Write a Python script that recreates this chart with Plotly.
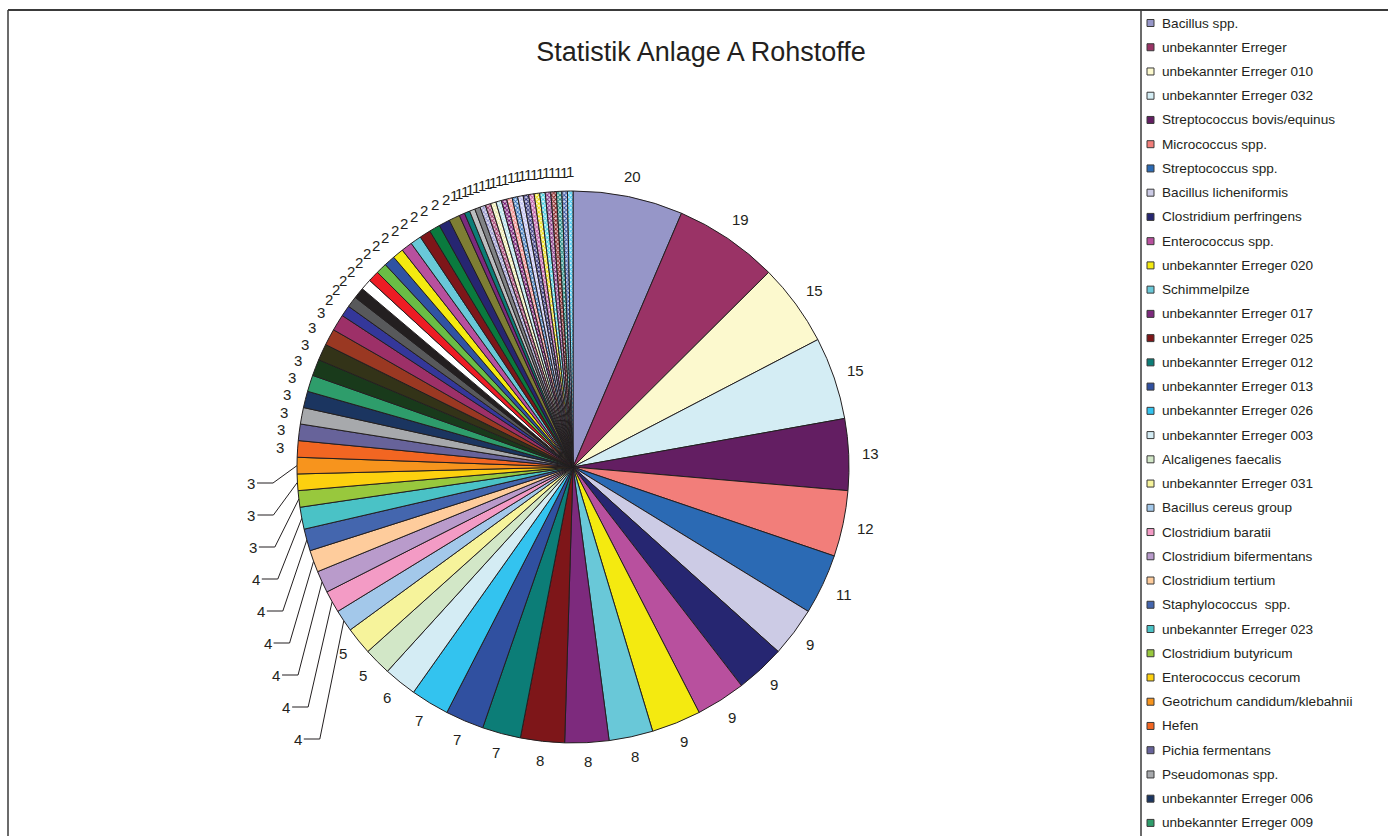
import math
import plotly.graph_objects as go

W, H = 1388, 836

# Befunde je Erreger (absteigend sortiert)
legend_names = [
    "Bacillus spp.", "unbekannter Erreger", "unbekannter Erreger 010",
    "unbekannter Erreger 032", "Streptococcus bovis/equinus", "Micrococcus spp.",
    "Streptococcus spp.", "Bacillus licheniformis", "Clostridium perfringens",
    "Enterococcus spp.", "unbekannter Erreger 020", "Schimmelpilze",
    "unbekannter Erreger 017", "unbekannter Erreger 025", "unbekannter Erreger 012",
    "unbekannter Erreger 013", "unbekannter Erreger 026", "unbekannter Erreger 003",
    "Alcaligenes faecalis", "unbekannter Erreger 031", "Bacillus cereus group",
    "Clostridium baratii", "Clostridium bifermentans", "Clostridium tertium",
    "Staphylococcus  spp.", "unbekannter Erreger 023", "Clostridium butyricum",
    "Enterococcus cecorum", "Geotrichum candidum/klebahnii", "Hefen",
    "Pichia fermentans", "Pseudomonas spp.", "unbekannter Erreger 006",
    "unbekannter Erreger 009",
]

values = [
    20, 19, 15, 15, 13, 12, 11, 9, 9, 9, 9, 8, 8, 8, 7, 7, 7, 6, 5, 5,
    4, 4, 4, 4, 4, 4,
    3, 3, 3, 3, 3, 3, 3, 3, 3, 3, 3, 3,
    2, 2, 2, 2, 2, 2, 2, 2, 2, 2, 2, 2, 2, 2,
    1, 1, 1, 1, 1, 1, 1, 1, 1, 1, 1, 1, 1, 1, 1, 1, 1, 1, 1, 1, 1,
]

labels = legend_names + [f"Erreger Nr. {i + 1}" for i in range(len(legend_names), len(values))]

# Segmente, deren Beschriftung über eine Führungslinie nach links versetzt wird
leader_slices = [28, 27, 26, 25, 24, 23, 22, 21, 20]

# Füllfarben in Reihenfolge der Segmente
solid_colors = [
    "#9696C8", "#9A3366", "#FCF9CE", "#D4EDF4", "#631E62", "#F27E7A", "#2B6AB4",
    "#CCCBE5", "#262671", "#B8509E", "#F4EA10", "#69C8D8", "#7D2A7D", "#7E1619",
    "#0C7D77", "#3050A0", "#33C3EF", "#D4ECF4", "#D2E7C7", "#F6F39B", "#A3C8EA",
    "#F39BC5", "#B99BCB", "#FECC9C", "#4466AE", "#4AC2C6", "#98C83D", "#FDD00F",
    "#F7941D", "#F26622", "#67639A", "#A7A9AC", "#1B3560", "#2E9D6B", "#193A1B",
    "#333318", "#9A3822", "#9D3068", "#34379A", "#58595B", "#231F20", "#FFFFFF",
    "#ED1C24", "#6ABD45", "#3053A3", "#F4EA10", "#B8509E", "#69C8D8", "#7E1619",
    "#0A7A3E", "#262671", "#7E7E34", "#7D2A7D", "#0C7D77", "#BCBEC0", "#808285",
]
# gemusterte Segmente (Punktraster)
pattern_colors = [
    "#8E8EC8", "#993366", "#E8E4A0", "#A8DDE8", "#660066", "#F08080", "#2B6AB4",
    "#B8B8F0", "#262671", "#B8509E", "#E8D800", "#33CCDD", "#7D2A7D", "#7E1619",
    "#0C7D77", "#3050A0", "#33C3EF",
]
pattern_bg = [
    "#E2E2F2", "#E8C8D8", "#FFFFF0", "#EEF8FA", "#E0CCE0", "#FCE0E0", "#D6E4F4",
    "#F0F0FC", "#D0D0E6", "#F0D4EA", "#FFFBD0", "#DDF3F7", "#E6D0E6", "#E6CACA",
    "#CCE6E4", "#D4DCF0", "#D4F0FA",
]

colors = solid_colors + pattern_colors
n_solid = len(solid_colors)
shapes_pat = [""] * n_solid + ["x"] * len(pattern_colors)
fg = ["#000000"] * n_solid + pattern_colors
bg = solid_colors + pattern_bg

font_family = "Arial, Liberation Sans, sans-serif"
text_color = "#231F20"
label_size = 15

# Kreisgeometrie in Pixeln
CX, CY, R = 573, 467, 276


def px(x, y):
    return x / W, 1 - y / H


fig = go.Figure()
fig.add_trace(go.Pie(
    labels=labels,
    values=values,
    sort=False,
    direction="clockwise",
    rotation=0,
    textinfo="none",
    marker=dict(
        colors=colors,
        line=dict(color="#231F20", width=1),
        pattern=dict(shape=shapes_pat, fgcolor=fg, bgcolor=bg, size=3, solidity=0.5),
    ),
    domain=dict(x=[(CX - R) / W, (CX + R) / W], y=[1 - (CY + R) / H, 1 - (CY - R) / H]),
    showlegend=False,
    hoverinfo="label+value",
))

shapes = []
annotations = []

# Wertbeschriftungen außerhalb des Kreises
total = sum(values)
cum = 0
mids = []
for v in values:
    mids.append(math.radians((cum + v / 2) / total * 360))
    cum += v

digit_w = 0.556 * label_size
cap_h = 12
for i, (v, th) in enumerate(zip(values, mids)):
    s, c = math.sin(th), math.cos(th)
    if i in leader_slices:
        continue
    w = digit_w * len(str(v))
    rr = 289 + 0.5 * (w * abs(s) + cap_h * abs(c))
    x, y = px(CX + rr * s, CY - rr * c)
    annotations.append(dict(xref="paper", yref="paper", x=x, y=y, text=str(v),
                            showarrow=False, xanchor="center", yanchor="middle",
                            font=dict(family=font_family, size=label_size, color=text_color)))

# versetzte Beschriftungen mit Führungslinien
col_top, col_step, col_dx = 483, 32, 46
for k, i in enumerate(leader_slices):
    th = mids[i]
    ex, ey = CX + R * math.sin(th), CY - R * math.cos(th)
    lx, ly = ex - col_dx, col_top + k * col_step
    x, y = px(lx, ly)
    annotations.append(dict(xref="paper", yref="paper", x=x, y=y, text=str(values[i]),
                            showarrow=False, xanchor="center", yanchor="middle",
                            font=dict(family=font_family, size=label_size, color=text_color)))
    p0, p1, p2 = px(lx + 6, ly), px(lx + 22, ly), px(ex, ey)
    shapes.append(dict(type="path", xref="paper", yref="paper",
                       path=f"M {p0[0]},{p0[1]} L {p1[0]},{p1[1]} L {p2[0]},{p2[1]}",
                       line=dict(color="#231F20", width=1)))

# Rahmen des Diagramms und der Legende
shapes.append(dict(type="line", xref="paper", yref="paper", x0=8 / W, x1=1.0,
                   y0=1 - 10 / H, y1=1 - 10 / H, line=dict(color="#3A3A3A", width=2)))
shapes.append(dict(type="line", xref="paper", yref="paper", x0=8 / W, x1=8 / W,
                   y0=0, y1=1 - 10 / H, line=dict(color="#3A3A3A", width=1.5)))
shapes.append(dict(type="line", xref="paper", yref="paper", x0=1141 / W, x1=1141 / W,
                   y0=0, y1=1 - 10 / H, line=dict(color="#3A3A3A", width=1.5)))

# Legende
leg_top, leg_step = 23, 24.24
for i, name in enumerate(legend_names):
    yc = leg_top + i * leg_step
    shapes.append(dict(type="rect", xref="paper", yref="paper",
                       x0=1147 / W, x1=1154 / W, y0=1 - (yc + 3.5) / H, y1=1 - (yc - 3.5) / H,
                       fillcolor=colors[i], line=dict(color="#3A3A3A", width=1)))
    annotations.append(dict(xref="paper", yref="paper", x=1160 / W, y=1 - yc / H,
                            xanchor="left", yanchor="middle", text=name, showarrow=False,
                            font=dict(family=font_family, size=13.6, color=text_color)))

fig.update_layout(
    width=W, height=H,
    margin=dict(l=0, r=0, t=0, b=0),
    paper_bgcolor="white",
    plot_bgcolor="white",
    title=dict(text="Statistik Anlage A Rohstoffe", x=701 / W, y=1 - 52 / H,
               xanchor="center", yanchor="middle",
               font=dict(family=font_family, size=27, color=text_color)),
    shapes=shapes,
    annotations=annotations,
)

fig.write_html("out.html")
